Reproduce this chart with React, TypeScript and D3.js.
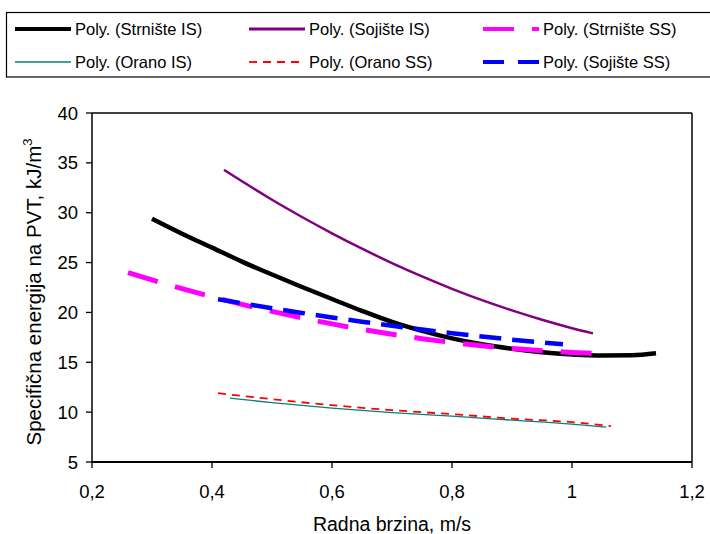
import React from "react";
import * as d3 from "d3";

const xTicks = [0.2, 0.4, 0.6, 0.8, 1.0, 1.2];
const xTickLabels = ["0,2", "0,4", "0,6", "0,8", "1", "1,2"];
const yTicks = [5, 10, 15, 20, 25, 30, 35, 40];

const strnisteISx = [0.30, 0.35, 0.40, 0.45, 0.50, 0.55, 0.60, 0.65, 0.70, 0.75, 0.80, 0.85, 0.90, 0.95, 1.00, 1.05, 1.10, 1.14];
const strnisteISy = [29.4, 27.9, 26.5, 25.1, 23.8, 22.55, 21.35, 20.15, 19.05, 18.15, 17.4, 16.8, 16.35, 16.0, 15.78, 15.68, 15.7, 15.9];

const sojisteISx = [0.42, 0.45, 0.50, 0.55, 0.60, 0.65, 0.70, 0.75, 0.80, 0.85, 0.90, 0.95, 1.00, 1.035];
const sojisteISy = [34.3, 33.15, 31.3, 29.57, 27.93, 26.39, 24.95, 23.61, 22.37, 21.23, 20.2, 19.26, 18.42, 17.9];

const strnisteSSx = [0.26, 0.30, 0.35, 0.40, 0.45, 0.50, 0.55, 0.60, 0.65, 0.70, 0.75, 0.80, 0.85, 0.90, 0.95, 1.00, 1.04];
const strnisteSSy = [24.0, 23.26, 22.39, 21.58, 20.81, 20.1, 19.45, 18.85, 18.3, 17.81, 17.37, 16.99, 16.66, 16.38, 16.16, 15.99, 15.9];

const oranoISx = [0.43, 0.50, 0.60, 0.70, 0.80, 0.90, 1.00, 1.057];
const oranoISy = [11.4, 10.95, 10.4, 9.95, 9.6, 9.2, 8.8, 8.5];

const oranoSSx = [0.41, 0.50, 0.60, 0.70, 0.80, 0.90, 1.00, 1.065];
const oranoSSy = [11.9, 11.3, 10.7, 10.2, 9.8, 9.35, 9.0, 8.6];

const sojisteSSx = [0.41, 0.45, 0.50, 0.55, 0.60, 0.65, 0.70, 0.75, 0.80, 0.85, 0.90, 0.95, 0.985];
const sojisteSSy = [21.33, 20.92, 20.42, 19.95, 19.5, 19.07, 18.66, 18.28, 17.92, 17.59, 17.27, 16.98, 16.8];

const seriesNames = [
  "Poly. (Strnište IS)",
  "Poly. (Sojište IS)",
  "Poly. (Strnište SS)",
  "Poly. (Orano IS)",
  "Poly. (Orano SS)",
  "Poly. (Sojište SS)",
];

type Style = { color: string; width: number; dash?: string; legendDash?: string; legendWidth: number };

const styles: Style[] = [
  { color: "#000000", width: 4.5, legendWidth: 4 },
  { color: "#800080", width: 2.5, legendWidth: 3 },
  { color: "#FF00FF", width: 5, dash: "31 18", legendDash: "31 18", legendWidth: 4 },
  { color: "#008080", width: 1.3, legendWidth: 1.3 },
  { color: "#FF0000", width: 1.8, dash: "8 6", legendDash: "8 6", legendWidth: 1.8 },
  { color: "#0000FF", width: 4.5, dash: "22 11", legendDash: "21 14", legendWidth: 4 },
];

const xs = [strnisteISx, sojisteISx, strnisteSSx, oranoISx, oranoSSx, sojisteSSx];
const ys = [strnisteISy, sojisteISy, strnisteSSy, oranoISy, oranoSSy, sojisteSSy];

const FONT = "'Liberation Sans', Arial, sans-serif";

export default function App() {
  const W = 710;
  const H = 534;
  const left = 92;
  const right = 692;
  const top = 113;
  const bottom = 462;

  const x = d3.scaleLinear().domain([0.2, 1.2]).range([left, right]);
  const y = d3.scaleLinear().domain([5, 40]).range([bottom, top]);

  const line = d3
    .line<[number, number]>()
    .x((d) => x(d[0]))
    .y((d) => y(d[1]))
    .curve(d3.curveMonotoneX);

  const legendCols = [15, 249, 483];
  const legendRows = [29, 62];

  return (
    <svg width={W} height={H} style={{ position: "absolute", left: 0, top: 0 }}>
      <rect x={0} y={0} width={W} height={H} fill="#fff" />
      {/* legend */}
      <rect x={6.5} y={12.5} width={720} height={64.5} fill="#fff" stroke="#000" strokeWidth={1.2} />
      {seriesNames.map((name, i) => {
        const col = i % 3;
        const row = Math.floor(i / 3);
        const lx = legendCols[col];
        const ly = legendRows[row];
        const s = styles[i];
        return (
          <g key={name}>
            <line
              x1={lx}
              x2={lx + 56}
              y1={ly}
              y2={ly}
              stroke={s.color}
              strokeWidth={s.legendWidth}
              strokeDasharray={s.legendDash}
            />
            <text x={lx + 60} y={ly + 6} fontFamily={FONT} fontSize={16.5} fill="#000">
              {name}
            </text>
          </g>
        );
      })}

      {/* plot frame */}
      <line x1={left} x2={right} y1={top} y2={top} stroke="#000" strokeWidth={1.5} />
      <line x1={right} x2={right} y1={top} y2={bottom} stroke="#000" strokeWidth={1.5} />
      <line x1={left} x2={left} y1={top} y2={bottom} stroke="#000" strokeWidth={1.5} />
      <line x1={left} x2={right} y1={bottom} y2={bottom} stroke="#000" strokeWidth={2} />

      {/* y ticks */}
      {yTicks.map((t) => (
        <g key={"y" + t}>
          <line x1={left - 6} x2={left} y1={y(t)} y2={y(t)} stroke="#000" strokeWidth={1.3} />
          <text
            x={left - 14}
            y={y(t) + 6.5}
            textAnchor="end"
            fontFamily={FONT}
            fontSize={18.5}
            fill="#000"
          >
            {t}
          </text>
        </g>
      ))}

      {/* x ticks */}
      {xTicks.map((t, i) => (
        <g key={"x" + t}>
          <line x1={x(t)} x2={x(t)} y1={bottom} y2={bottom + 6} stroke="#000" strokeWidth={1.3} />
          <text
            x={x(t)}
            y={bottom + 36}
            textAnchor="middle"
            fontFamily={FONT}
            fontSize={18.5}
            fill="#000"
          >
            {xTickLabels[i]}
          </text>
        </g>
      ))}

      {/* series */}
      {xs.map((xv, i) => {
        const pts: [number, number][] = xv.map((v, j) => [v, ys[i][j]]);
        const s = styles[i];
        return (
          <path
            key={"s" + i}
            d={line(pts) || ""}
            fill="none"
            stroke={s.color}
            strokeWidth={s.width}
            strokeDasharray={s.dash}
          />
        );
      })}

      {/* axis titles */}
      <text
        x={392}
        y={531}
        textAnchor="middle"
        fontFamily={FONT}
        fontSize={19.5}
        fill="#000"
      >
        Radna brzina, m/s
      </text>
      <text
        transform="translate(41,292) rotate(-90)"
        textAnchor="middle"
        fontFamily={FONT}
        fontSize={20.5}
        fill="#000"
      >
        Specifična energija na PVT, kJ/m
        <tspan dy={-9} fontSize={13}>3</tspan>
      </text>
    </svg>
  );
}
